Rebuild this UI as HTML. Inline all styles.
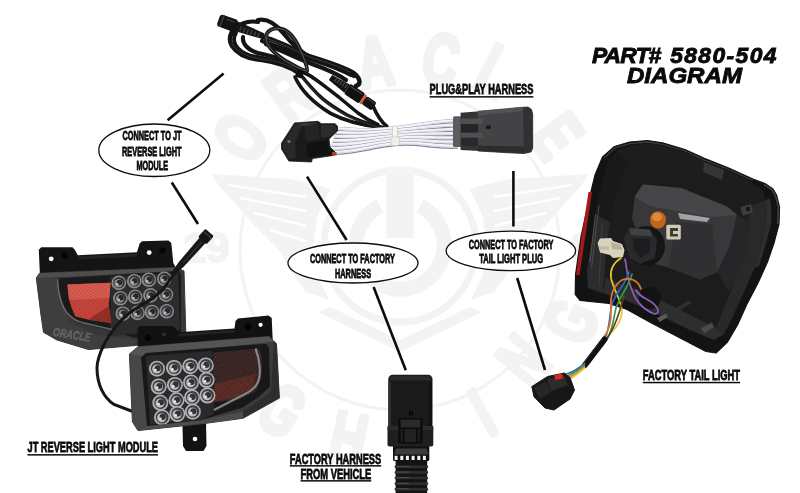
<!DOCTYPE html>
<html><head><meta charset="utf-8"><title>Part# 5880-504 Diagram</title>
<style>
html,body{margin:0;padding:0;background:#fff;}
body{width:800px;height:493px;overflow:hidden;font-family:"Liberation Sans",sans-serif;}
svg{display:block;will-change:transform;}
</style></head><body>
<svg width="800" height="493" viewBox="0 0 800 493">
<defs>
<pattern id="mesh" width="2.4" height="2.4" patternUnits="userSpaceOnUse" patternTransform="rotate(30)"><rect width="2.4" height="2.4" fill="none"/><path d="M0,0 H2.4 M0,0 V2.4" stroke="#6a1814" stroke-width="0.55" opacity="0.7"/></pattern>
<pattern id="mesh2" width="2.6" height="2.6" patternUnits="userSpaceOnUse" patternTransform="rotate(30)"><circle cx="1.3" cy="1.3" r="0.55" fill="#a8382e" opacity="0.6"/></pattern>
</defs>
<rect width="800" height="493" fill="#ffffff"/>
<g id="wm" fill="#f3f3f3" stroke="none">
<text transform="translate(239.7,136.9) rotate(-55.4) scale(0.68,1)" x="0" y="25.8" font-family="Liberation Sans, sans-serif" font-weight="bold" font-size="72" text-anchor="middle" stroke="#f3f3f3" stroke-width="5" stroke-linejoin="round">O</text>
<text transform="translate(288.0,93.0) rotate(-36.2) scale(0.68,1)" x="0" y="25.8" font-family="Liberation Sans, sans-serif" font-weight="bold" font-size="72" text-anchor="middle" stroke="#f3f3f3" stroke-width="5" stroke-linejoin="round">R</text>
<text transform="translate(375.0,61.0) rotate(-8.3) scale(0.68,1)" x="0" y="25.8" font-family="Liberation Sans, sans-serif" font-weight="bold" font-size="72" text-anchor="middle" stroke="#f3f3f3" stroke-width="5" stroke-linejoin="round">A</text>
<text transform="translate(441.0,58.6) rotate(11.4) scale(0.68,1)" x="0" y="25.8" font-family="Liberation Sans, sans-serif" font-weight="bold" font-size="72" text-anchor="middle" stroke="#f3f3f3" stroke-width="5" stroke-linejoin="round">C</text>
<text transform="translate(496.0,70.0) rotate(27.5) scale(0.68,1)" x="0" y="25.8" font-family="Liberation Sans, sans-serif" font-weight="bold" font-size="72" text-anchor="middle" stroke="#f3f3f3" stroke-width="5" stroke-linejoin="round">L</text>
<text transform="translate(557.4,135.6) rotate(53.7) scale(0.68,1)" x="0" y="25.8" font-family="Liberation Sans, sans-serif" font-weight="bold" font-size="72" text-anchor="middle" stroke="#f3f3f3" stroke-width="5" stroke-linejoin="round">E</text>
<text transform="translate(235.0,345.0) rotate(57.2) scale(0.68,1)" x="0" y="25.8" font-family="Liberation Sans, sans-serif" font-weight="bold" font-size="72" text-anchor="middle" stroke="#f3f3f3" stroke-width="5" stroke-linejoin="round">L</text>
<text transform="translate(256.0,384.0) rotate(44.0) scale(0.68,1)" x="0" y="25.8" font-family="Liberation Sans, sans-serif" font-weight="bold" font-size="72" text-anchor="middle" stroke="#f3f3f3" stroke-width="5" stroke-linejoin="round">I</text>
<text transform="translate(282.6,409.4) rotate(33.2) scale(0.68,1)" x="0" y="25.8" font-family="Liberation Sans, sans-serif" font-weight="bold" font-size="72" text-anchor="middle" stroke="#f3f3f3" stroke-width="5" stroke-linejoin="round">G</text>
<text transform="translate(348.7,437.4) rotate(12.1) scale(0.68,1)" x="0" y="25.8" font-family="Liberation Sans, sans-serif" font-weight="bold" font-size="72" text-anchor="middle" stroke="#f3f3f3" stroke-width="5" stroke-linejoin="round">H</text>
<text transform="translate(415.0,447.0) rotate(-7.1) scale(0.68,1)" x="0" y="25.8" font-family="Liberation Sans, sans-serif" font-weight="bold" font-size="72" text-anchor="middle" stroke="#f3f3f3" stroke-width="5" stroke-linejoin="round">T</text>
<text transform="translate(482.0,411.7) rotate(-28.9) scale(0.68,1)" x="0" y="25.8" font-family="Liberation Sans, sans-serif" font-weight="bold" font-size="72" text-anchor="middle" stroke="#f3f3f3" stroke-width="5" stroke-linejoin="round">I</text>
<text transform="translate(522.7,360.0) rotate(-49.1) scale(0.68,1)" x="0" y="25.8" font-family="Liberation Sans, sans-serif" font-weight="bold" font-size="72" text-anchor="middle" stroke="#f3f3f3" stroke-width="5" stroke-linejoin="round">N</text>
<text transform="translate(570.0,321.0) rotate(-67.1) scale(0.68,1)" x="0" y="25.8" font-family="Liberation Sans, sans-serif" font-weight="bold" font-size="72" text-anchor="middle" stroke="#f3f3f3" stroke-width="5" stroke-linejoin="round">G</text>
<circle cx="400" cy="250" r="160" fill="none" stroke="#f3f3f3" stroke-width="3"/>
<circle cx="400" cy="246" r="76" fill="none" stroke="#f3f3f3" stroke-width="7"/>
<path d="M 380,206 A 44 44 0 1 0 420,206" fill="none" stroke="#f3f3f3" stroke-width="15"/>
<rect x="386.5" y="174" width="27" height="64" />
<polygon points="318,312 400,352 482,312 470,307 400,340 330,307"/>
<polygon points="211,174 290,179 322,186 330,189 318,214 313,246 317,274 329,300 306,292 290,270 281,252 251,222 232,200 220,187"/>
<line x1="228" y1="185" x2="306" y2="197" stroke="#fff" stroke-width="2.4"/>
<line x1="240" y1="198" x2="306" y2="211" stroke="#fff" stroke-width="2.4"/>
<line x1="254" y1="213" x2="306" y2="226" stroke="#fff" stroke-width="2.4"/>
<line x1="270" y1="230" x2="306" y2="241" stroke="#fff" stroke-width="2.4"/>
<polygon points="589,174 510,179 478,186 470,189 482,214 487,246 483,274 471,300 494,292 510,270 519,252 549,222 568,200 580,187"/>
<line x1="572" y1="185" x2="494" y2="197" stroke="#fff" stroke-width="2.4"/>
<line x1="560" y1="198" x2="494" y2="211" stroke="#fff" stroke-width="2.4"/>
<line x1="546" y1="213" x2="494" y2="226" stroke="#fff" stroke-width="2.4"/>
<line x1="530" y1="230" x2="494" y2="241" stroke="#fff" stroke-width="2.4"/>
<text x="206" y="262" font-family="Liberation Sans, sans-serif" font-weight="bold" font-size="42" text-anchor="middle" stroke="#f3f3f3" stroke-width="2">19</text>
<text x="594" y="262" font-family="Liberation Sans, sans-serif" font-weight="bold" font-size="42" text-anchor="middle" stroke="#f3f3f3" stroke-width="2">99</text>
</g>
<g stroke="#0c0c0c" stroke-width="2.6" stroke-linecap="butt">
<line x1="223.6" y1="73.5" x2="167.6" y2="120.3"/>
<line x1="171.8" y1="182.5" x2="198" y2="224"/>
<line x1="307" y1="176.6" x2="346.6" y2="240"/>
<line x1="373.6" y1="287" x2="405.8" y2="370.3"/>
<line x1="513.4" y1="171" x2="513.4" y2="226.5"/>
<line x1="517.2" y1="278" x2="545" y2="370"/>
</g>
<g id="cable" fill="none" stroke="#141414" stroke-linecap="round" stroke-linejoin="round">
<path d="M263,37 C275,40 290,47 305,55 C322,60 340,66 352,72 C360,77 362,84 356,86" stroke-width="4.5"/>
<path d="M258,20 C268,18 276,24 284,34 C292,44 300,52 312,58 C328,64 344,70 354,76" stroke-width="4.3"/>
<path d="M266,44 C280,50 296,58 312,64 C326,69 338,74 346,80" stroke-width="4.3"/>
<path d="M262,41 C280,47 298,55 316,61 C330,65.5 342,70 351,75" stroke-width="4.2"/>
<path d="M236,33 C231,41 236,51 250,55.5 C266,58.5 284,62 298,71" stroke-width="3.8"/>
<path d="M238,26 C230,30 228,40 232,46 C238,55 250,59 262,60 C276,62 290,66 300,74" stroke-width="4.5"/>
<path d="M243,37 C242,44 248,50 258,53 C272,56 288,60 300,70" stroke-width="4.1"/>
<path d="M233,34 C236,24 248,20 258,22" stroke-width="4.1"/>
<path d="M295,77 C300,88 312,102 330.6,113.4 C342,119.5 358,124.5 378,127" stroke-width="3.6"/>
<path d="M300,74 C308,84 315,92 322.5,98.7 C330,105 338,110 347,115 C356,119.5 366,123.5 383,127.5" stroke-width="3.6"/>
<path d="M302,72 C310,74 322,84 338.7,97 C346,103 352,108 358,113 C364,117.5 370,121 378,124.5" stroke-width="3.5"/>
<path d="M373,106 C376,113 380,121 387,126.5" stroke-width="3.6"/>
<path d="M266,38 C266,30 274,27 282,29 C292,32 298,44 303,56 C306,64 308,70 307,71 C304,71 294,66 284,60 C274,53 266,46 266,38Z" stroke-width="4" stroke="#1a1a1a"/>
<path d="M266,38 C266,30 274,27 282,29 C292,32 298,44 303,56 C306,64 308,70 307,71 C304,71 294,66 284,60 C274,53 266,46 266,38Z" stroke-width="0.8" stroke="#6a6a6a"/>
<path d="M266,38 C280,43 296,51 310,57 C326,62 340,67 350,72" stroke="#4a4a4a" stroke-width="0.7"/>
<path d="M232,44 C238,54 252,58 264,59.5 C278,61 290,65 299,72" stroke="#444" stroke-width="0.7"/>
<path d="M301,76 C309,86 316,93 323,99.5 C331,106 339,111 347.5,115.8 C356,120 366,124 382,128" stroke="#444" stroke-width="0.7"/>
</g>
<rect x="296" y="70" width="7" height="8" rx="2" fill="#0c0c0c" transform="rotate(20 300 74)"/>
<g transform="translate(218.5,19.8) rotate(20)">
<rect x="0" y="-6.3" width="19" height="12.6" rx="3" fill="#131313"/>
<rect x="2.5" y="-6.3" width="2.2" height="12.6" fill="#333"/>
<rect x="7" y="-4" width="9" height="1.4" fill="#3c3c3c"/>
<polygon points="18,-5 48,-3 48,3 18,5" fill="#151515"/>
<rect x="23.0" y="-1.6" width="1.6" height="5" fill="#3e3e3e"/>
<rect x="26.8" y="-1.6" width="1.6" height="5" fill="#3e3e3e"/>
<rect x="30.6" y="-1.6" width="1.6" height="5" fill="#3e3e3e"/>
<rect x="34.4" y="-1.6" width="1.6" height="5" fill="#3e3e3e"/>
<rect x="38.2" y="-1.6" width="1.6" height="5" fill="#3e3e3e"/>
<rect x="42.0" y="-1.6" width="1.6" height="5" fill="#3e3e3e"/>
</g>
<g transform="translate(330.5,77.5) rotate(33.8)">
<polygon points="0,-3 20,-5 20,5 0,3" fill="#141414"/>
<rect x="5.0" y="-4" width="1.3" height="5" fill="#484848"/>
<rect x="8.0" y="-4" width="1.3" height="5" fill="#484848"/>
<rect x="11.0" y="-4" width="1.3" height="5" fill="#484848"/>
<rect x="14.0" y="-4" width="1.3" height="5" fill="#484848"/>
<rect x="17.0" y="-4" width="1.3" height="5" fill="#484848"/>
<rect x="20" y="-6" width="18" height="12" rx="2" fill="#111"/>
<rect x="22" y="-4.5" width="14" height="1.4" fill="#3a3a3a"/>
<rect x="38" y="-5.2" width="2.6" height="10.4" fill="#d8582a"/>
<rect x="40.4" y="-4.8" width="12" height="9.6" rx="2" fill="#131313"/>
<rect x="42" y="-3.6" width="9" height="1.3" fill="#3a3a3a"/>
</g>
<g id="harness">
<path d="M337.0,128.5 C359.0,130.0 370,130.5 395,128.0 S430,121.5 458,120.5" fill="none" stroke="#85859a" stroke-width="4.6" transform="translate(0,0.5)"/>
<path d="M337.0,128.5 C359.0,130.0 370,130.5 395,128.0 S430,121.5 458,120.5" fill="none" stroke="#f3f3f8" stroke-width="3.1"/>
<path d="M337.0,128.5 C359.0,130.0 370,130.5 395,128.0 S430,121.5 458,120.5" fill="none" stroke="#d3d3de" stroke-width="0.9" transform="translate(0,1)"/>
<path d="M335.7,132.4 C357.7,133.9 370,133.1 395,130.6 S430,125.8 458,124.8" fill="none" stroke="#85859a" stroke-width="4.6" transform="translate(0,0.5)"/>
<path d="M335.7,132.4 C357.7,133.9 370,133.1 395,130.6 S430,125.8 458,124.8" fill="none" stroke="#f3f3f8" stroke-width="3.1"/>
<path d="M335.7,132.4 C357.7,133.9 370,133.1 395,130.6 S430,125.8 458,124.8" fill="none" stroke="#d3d3de" stroke-width="0.9" transform="translate(0,1)"/>
<path d="M334.3,136.3 C356.3,137.8 370,135.7 395,133.2 S430,130.0 458,129.0" fill="none" stroke="#85859a" stroke-width="4.6" transform="translate(0,0.5)"/>
<path d="M334.3,136.3 C356.3,137.8 370,135.7 395,133.2 S430,130.0 458,129.0" fill="none" stroke="#f3f3f8" stroke-width="3.1"/>
<path d="M334.3,136.3 C356.3,137.8 370,135.7 395,133.2 S430,130.0 458,129.0" fill="none" stroke="#d3d3de" stroke-width="0.9" transform="translate(0,1)"/>
<path d="M333.0,140.2 C355.0,141.8 370,138.2 395,135.8 S430,134.2 458,133.2" fill="none" stroke="#85859a" stroke-width="4.6" transform="translate(0,0.5)"/>
<path d="M333.0,140.2 C355.0,141.8 370,138.2 395,135.8 S430,134.2 458,133.2" fill="none" stroke="#f3f3f8" stroke-width="3.1"/>
<path d="M333.0,140.2 C355.0,141.8 370,138.2 395,135.8 S430,134.2 458,133.2" fill="none" stroke="#d3d3de" stroke-width="0.9" transform="translate(0,1)"/>
<path d="M331.7,144.2 C353.7,145.7 370,140.8 395,138.3 S430,138.5 458,137.5" fill="none" stroke="#85859a" stroke-width="4.6" transform="translate(0,0.5)"/>
<path d="M331.7,144.2 C353.7,145.7 370,140.8 395,138.3 S430,138.5 458,137.5" fill="none" stroke="#f3f3f8" stroke-width="3.1"/>
<path d="M331.7,144.2 C353.7,145.7 370,140.8 395,138.3 S430,138.5 458,137.5" fill="none" stroke="#d3d3de" stroke-width="0.9" transform="translate(0,1)"/>
<path d="M330.3,148.1 C352.3,149.6 370,143.4 395,140.9 S430,142.8 458,141.8" fill="none" stroke="#85859a" stroke-width="4.6" transform="translate(0,0.5)"/>
<path d="M330.3,148.1 C352.3,149.6 370,143.4 395,140.9 S430,142.8 458,141.8" fill="none" stroke="#f3f3f8" stroke-width="3.1"/>
<path d="M330.3,148.1 C352.3,149.6 370,143.4 395,140.9 S430,142.8 458,141.8" fill="none" stroke="#d3d3de" stroke-width="0.9" transform="translate(0,1)"/>
<path d="M329.0,152.0 C351.0,153.5 370,146.0 395,143.5 S430,147.0 458,146.0" fill="none" stroke="#85859a" stroke-width="4.6" transform="translate(0,0.5)"/>
<path d="M329.0,152.0 C351.0,153.5 370,146.0 395,143.5 S430,147.0 458,146.0" fill="none" stroke="#f3f3f8" stroke-width="3.1"/>
<path d="M329.0,152.0 C351.0,153.5 370,146.0 395,143.5 S430,147.0 458,146.0" fill="none" stroke="#d3d3de" stroke-width="0.9" transform="translate(0,1)"/>
<rect x="392.5" y="126" width="5" height="19" rx="2" fill="#f6f4ec" stroke="#c4c2b8" stroke-width="0.6"/>
<rect x="391" y="137" width="8.5" height="8.5" rx="1.5" fill="#f1efe5" stroke="#c4c2b8" stroke-width="0.6"/>
<polygon points="281.5,143.2 294.5,122.9 318.0,121.3 321.3,123.7 335.0,123.7 337.5,126.0 337.5,131.0 329.0,139.0 330.0,147.0 335.0,152.0 333.5,155.4 312.4,158.6 311.5,162.0 288.8,161.0 281.5,149.0" fill="#1b1b1b" stroke="#1b1b1b" stroke-width="0.8" stroke-linejoin="round"/>
<polygon points="283.0,143.5 295.0,124.5 303.0,124.0 295.5,141.0 295.5,158.0 289.5,159.0 283.0,149.0" fill="#292929" />
<polygon points="296.0,123.5 317.5,122.3 309.0,127.0 303.0,126.0" fill="#353535" />
<polygon points="304.0,127.0 318.0,123.0 320.0,139.0 306.0,142.0" fill="#242424" />
<polygon points="306.0,144.0 328.0,140.0 329.0,147.0 333.0,152.0 332.0,154.5 308.0,157.5" fill="#111" />
<polygon points="321.0,125.0 334.5,125.0 336.0,127.0 336.0,131.0 329.0,137.0 321.0,138.0" fill="#2b2b2b" />
<rect x="332" y="152" width="4.5" height="3.6" fill="#a8432a"/>
<ellipse cx="289" cy="141.5" rx="1.6" ry="1.2" fill="#8a7a50"/>
<rect x="453" y="116.3" width="9" height="30.6" rx="1.5" fill="#5c5c5e"/>
<polygon points="460.6,112.8 480.0,111.3 480.0,151.0 460.6,150.0" fill="#333335" />
<polygon points="478.0,111.3 522.0,107.3 528.0,107.0 531.5,109.5 532.7,114.0 532.7,148.0 531.0,152.0 524.0,153.5 508.0,152.8 478.0,151.0" fill="#434345" stroke="#434345" stroke-width="0.8" stroke-linejoin="round"/>
<polygon points="478.0,111.3 522.0,107.3 528.0,107.0 530.0,109.0 524.0,111.0 478.0,115.5" fill="#525254" />
<polygon points="523.0,107.5 528.0,107.0 531.5,109.5 532.7,114.0 532.7,148.0 531.0,152.0 524.0,153.5" fill="#313133" />
<polygon points="478.0,145.5 524.0,146.5 524.0,153.5 508.0,152.8 478.0,151.0" fill="#2c2c2e" />
<rect x="461" y="118.6" width="21.5" height="5.4" rx="1" fill="#505052"/>
<rect x="461" y="132.4" width="21.5" height="5.4" rx="1" fill="#505052"/>
<rect x="461" y="124" width="17" height="8.4" fill="#252527"/>
<rect x="461" y="137.8" width="17" height="8" fill="#29292b"/>
<rect x="486" y="125.6" width="5" height="3.2" fill="#18181a"/>
</g>
<g id="mod1">
<polygon points="38.8,249.8 41.3,247.2 72.4,247.2 74.8,249.8 77.8,255.3 137.0,252.3 139.6,243.5 142.0,241.3 168.5,240.6 171.3,243.0 173.3,263.0 177.0,270.0 40.0,277.0" fill="#141414" />
<polygon points="78.0,256.5 137.0,253.5 137.0,256.5 78.0,259.5" fill="#232323" />
<circle cx="51.2" cy="258.8" r="2.4" fill="#fff"/>
<circle cx="149.2" cy="252.6" r="2.4" fill="#fff"/>
<circle cx="64.5" cy="255.5" r="3.2" fill="#050505"/>
<circle cx="162.5" cy="250.6" r="3.2" fill="#050505"/>
<polygon points="36.3,278.0 39.5,273.2 176.0,267.5 184.0,271.0 186.0,340.0 135.0,345.5 88.5,349.5 57.0,340.0 43.5,332.3 41.0,315.0" fill="#373737" stroke="#373737" stroke-width="1" stroke-linejoin="round"/>
<polygon points="36.3,278.0 39.5,273.2 176.0,267.5 181.0,270.8 58.0,277.2" fill="#4e4e4e" />
<polygon points="36.3,278.0 58.0,277.2 60.0,300.0 70.0,322.0 95.0,334.0 134.7,340.0 135.0,345.5 88.5,349.5 57.0,340.0 43.5,332.3 41.0,315.0" fill="#3e3e3e" />
<polygon points="56.8,278.4 178.6,271.0 181.0,275.0 181.0,336.0 134.7,338.0 111.0,330.5 79.5,323.0 67.0,312.0 60.5,298.0" fill="#1a1a1a" />
<polygon points="110.4,276.5 178.0,272.5 180.0,330.0 110.4,336.0" fill="#2c2c2e" />
<path d="M67.5,284.5 L110.5,282.8 L108.8,305 L111.2,323 L90,320 L75.6,316.6 C70,306 68,296 67.5,284.5Z" fill="#cf4a41"/>
<path d="M67.5,284.5 L110.5,282.8 L109.5,298 L69,300Z" fill="#ea6e63" opacity="0.7"/>
<path d="M88,319.6 L111.2,323 L109,306 Z" fill="#8e2a24" opacity="0.8"/>
<path d="M67.5,284.5 L110.5,282.8 L108.8,305 L111.2,323 L90,320 L75.6,316.6 C70,306 68,296 67.5,284.5Z" fill="url(#mesh)"/>
<path d="M57.6,279 C58,294 62,309 69.5,315.5 C74,319.5 78,321.5 82,322.5 L112,329.5" fill="none" stroke="#7a7a7c" stroke-width="1.3" opacity="0.8"/>
<circle cx="118.8" cy="282.9" r="7.3" fill="#8e8e91"/>
<circle cx="119.0" cy="282.7" r="5.77" fill="#343436"/>
<circle cx="118.5" cy="283.2" r="4.16" fill="#8c8c8f"/>
<circle cx="119.5" cy="282.4" r="2.77" fill="#29292b"/>
<circle cx="117.2" cy="284.2" r="1.17" fill="#c8c8cb"/>
<circle cx="134.2" cy="281.2" r="7.3" fill="#8e8e91"/>
<circle cx="134.4" cy="281.0" r="5.77" fill="#343436"/>
<circle cx="133.9" cy="281.5" r="4.16" fill="#8c8c8f"/>
<circle cx="134.9" cy="280.7" r="2.77" fill="#29292b"/>
<circle cx="132.6" cy="282.5" r="1.17" fill="#c8c8cb"/>
<circle cx="148.8" cy="279.8" r="7.3" fill="#8e8e91"/>
<circle cx="149.0" cy="279.6" r="5.77" fill="#343436"/>
<circle cx="148.5" cy="280.1" r="4.16" fill="#8c8c8f"/>
<circle cx="149.5" cy="279.3" r="2.77" fill="#29292b"/>
<circle cx="147.2" cy="281.1" r="1.17" fill="#c8c8cb"/>
<circle cx="164.3" cy="278.8" r="7.3" fill="#8e8e91"/>
<circle cx="164.5" cy="278.6" r="5.77" fill="#343436"/>
<circle cx="164.0" cy="279.1" r="4.16" fill="#8c8c8f"/>
<circle cx="165.0" cy="278.3" r="2.77" fill="#29292b"/>
<circle cx="162.7" cy="280.1" r="1.17" fill="#c8c8cb"/>
<circle cx="120.4" cy="298.3" r="7.3" fill="#8e8e91"/>
<circle cx="120.6" cy="298.1" r="5.77" fill="#343436"/>
<circle cx="120.1" cy="298.6" r="4.16" fill="#8c8c8f"/>
<circle cx="121.1" cy="297.8" r="2.77" fill="#29292b"/>
<circle cx="118.8" cy="299.6" r="1.17" fill="#c8c8cb"/>
<circle cx="135.2" cy="296.8" r="7.3" fill="#8e8e91"/>
<circle cx="135.4" cy="296.6" r="5.77" fill="#343436"/>
<circle cx="134.9" cy="297.1" r="4.16" fill="#8c8c8f"/>
<circle cx="135.9" cy="296.3" r="2.77" fill="#29292b"/>
<circle cx="133.6" cy="298.1" r="1.17" fill="#c8c8cb"/>
<circle cx="150.5" cy="295.4" r="7.3" fill="#8e8e91"/>
<circle cx="150.7" cy="295.2" r="5.77" fill="#343436"/>
<circle cx="150.2" cy="295.7" r="4.16" fill="#8c8c8f"/>
<circle cx="151.2" cy="294.9" r="2.77" fill="#29292b"/>
<circle cx="148.9" cy="296.7" r="1.17" fill="#c8c8cb"/>
<circle cx="165.9" cy="294.6" r="7.3" fill="#8e8e91"/>
<circle cx="166.1" cy="294.4" r="5.77" fill="#343436"/>
<circle cx="165.6" cy="294.9" r="4.16" fill="#8c8c8f"/>
<circle cx="166.6" cy="294.1" r="2.77" fill="#29292b"/>
<circle cx="164.3" cy="295.9" r="1.17" fill="#c8c8cb"/>
<circle cx="122.9" cy="313.7" r="7.3" fill="#8e8e91"/>
<circle cx="123.1" cy="313.5" r="5.77" fill="#343436"/>
<circle cx="122.6" cy="314.0" r="4.16" fill="#8c8c8f"/>
<circle cx="123.6" cy="313.2" r="2.77" fill="#29292b"/>
<circle cx="121.3" cy="315.0" r="1.17" fill="#c8c8cb"/>
<circle cx="137.5" cy="312.9" r="7.3" fill="#8e8e91"/>
<circle cx="137.7" cy="312.7" r="5.77" fill="#343436"/>
<circle cx="137.2" cy="313.2" r="4.16" fill="#8c8c8f"/>
<circle cx="138.2" cy="312.4" r="2.77" fill="#29292b"/>
<circle cx="135.9" cy="314.2" r="1.17" fill="#c8c8cb"/>
<circle cx="152.0" cy="312.0" r="7.3" fill="#8e8e91"/>
<circle cx="152.2" cy="311.8" r="5.77" fill="#343436"/>
<circle cx="151.7" cy="312.3" r="4.16" fill="#8c8c8f"/>
<circle cx="152.7" cy="311.5" r="2.77" fill="#29292b"/>
<circle cx="150.4" cy="313.3" r="1.17" fill="#c8c8cb"/>
<circle cx="166.7" cy="311.3" r="7.3" fill="#8e8e91"/>
<circle cx="166.9" cy="311.1" r="5.77" fill="#343436"/>
<circle cx="166.4" cy="311.6" r="4.16" fill="#8c8c8f"/>
<circle cx="167.4" cy="310.8" r="2.77" fill="#29292b"/>
<circle cx="165.1" cy="312.6" r="1.17" fill="#c8c8cb"/>
<text x="52.5" y="335.5" font-family="Liberation Sans, sans-serif" font-weight="bold" font-style="italic" font-size="12" textLength="38" lengthAdjust="spacingAndGlyphs" fill="#5c5c5c" stroke="#757575" stroke-width="0.35" transform="rotate(9.5 52.5 335.5)">ORACLE</text>
</g>
<g id="modcable">
<path d="M181,264 C176,271 170,280 164,288 C154,300 142,304 132.7,310.5 C122,318 110,332 103.7,345 C99,355 97,362 97,368 C97,385 104,398 114,404.5 L134,412" fill="none" stroke="#161616" stroke-width="3" stroke-linecap="round"/>
<g transform="translate(209.3,232.8) rotate(131.7)"><rect x="-0.5" y="-5.6" width="11" height="11.2" rx="1.4" fill="#141414"/><polygon points="10,-4 42,-3.4 56,-1.8 56,1.8 42,3.4 10,4" fill="#171717"/><rect x="2" y="-5.6" width="1.6" height="11.2" fill="#363636"/><rect x="12" y="-1" width="28" height="1" fill="#3a3a3a"/></g>
</g>
<g id="mod2">
<polygon points="137.5,328.6 140.0,326.0 173.0,326.0 175.5,328.4 178.0,332.2 234.5,328.4 235.5,321.0 238.0,318.4 268.5,315.6 271.7,318.0 272.8,342.0 138.0,350.0" fill="#121212" />
<polygon points="178.5,333.6 234.5,329.8 234.5,332.5 178.5,336.4" fill="#222" />
<circle cx="148" cy="337.8" r="3.4" fill="#040404"/>
<circle cx="164" cy="334.6" r="2" fill="#2e2e2e"/>
<circle cx="260.6" cy="324.8" r="2.1" fill="#fff"/>
<circle cx="248" cy="326.5" r="3.4" fill="#040404"/>
<polygon points="182.4,423.0 206.0,422.0 206.5,446.0 203.5,451.0 186.0,451.0 183.0,446.0" fill="#121212" />
<circle cx="195" cy="439" r="2.3" fill="#fff"/>
<polygon points="129.4,354.0 138.0,346.8 269.0,336.5 276.5,343.8 279.4,398.0 243.0,418.3 204.4,423.5 138.0,430.6 132.4,421.8" fill="#3b3b3b" stroke="#3b3b3b" stroke-width="1" stroke-linejoin="round"/>
<polygon points="129.4,354.0 138.0,346.8 269.0,336.5 274.0,341.5 142.0,356.5" fill="#545454" />
<polygon points="129.4,354.0 142.0,356.5 147.0,426.0 138.0,430.6 132.4,421.8" fill="#474747" />
<polygon points="274.0,341.5 276.5,343.8 279.4,398.0 243.0,418.3 243.0,411.5 271.0,392.0" fill="#2d2d2d" />
<polygon points="147.0,426.0 201.5,420.0 243.0,411.5 243.0,418.3 204.4,423.5 138.0,430.6" fill="#4c4c4c" />
<polygon points="141.0,357.5 146.0,353.0 266.0,343.8 269.0,348.0 270.0,386.5 260.0,396.0 242.6,407.5 201.5,420.0 147.0,426.0" fill="#181818" />
<polygon points="146.0,356.0 212.0,351.0 214.0,414.0 201.5,420.0 150.0,424.5" fill="#2a2a2c" />
<path d="M213,352.5 L259,348.5 C264,360 263,380 255,392 L238,400 L214,402Z" fill="#2e2523"/>
<path d="M214,384 L256,374 L252,388 L236,397 L214,402Z" fill="#5a2a24" opacity="0.8"/>
<path d="M213,352.5 L259,348.5 C264,360 263,380 255,392 L238,400 L214,402Z" fill="url(#mesh2)"/>
<path d="M255.5,348.5 C260,360 261.5,375 257.5,383 C254.5,389 250,391.5 246,393.5 L214,410" fill="none" stroke="#97979a" stroke-width="2.2" opacity="0.85"/>
<clipPath id="lens2"><polygon points="141,357.5 146,353 266,343.8 269,348 270,386.5 260,396 242.6,407.5 201.5,420 147,426"/></clipPath>
<g clip-path="url(#lens2)">
<circle cx="157.0" cy="368.7" r="8.0" fill="#b2b2b5"/>
<circle cx="157.2" cy="368.5" r="6.32" fill="#3e3e40"/>
<circle cx="156.7" cy="369.0" r="4.56" fill="#bebec1"/>
<circle cx="157.7" cy="368.2" r="3.04" fill="#333335"/>
<circle cx="155.4" cy="370.0" r="1.28" fill="#ececee"/>
<circle cx="174.0" cy="367.9" r="8.0" fill="#b2b2b5"/>
<circle cx="174.2" cy="367.7" r="6.32" fill="#3e3e40"/>
<circle cx="173.7" cy="368.2" r="4.56" fill="#bebec1"/>
<circle cx="174.7" cy="367.4" r="3.04" fill="#333335"/>
<circle cx="172.4" cy="369.2" r="1.28" fill="#ececee"/>
<circle cx="190.3" cy="366.2" r="8.0" fill="#b2b2b5"/>
<circle cx="190.5" cy="366.0" r="6.32" fill="#3e3e40"/>
<circle cx="190.0" cy="366.5" r="4.56" fill="#bebec1"/>
<circle cx="191.0" cy="365.7" r="3.04" fill="#333335"/>
<circle cx="188.7" cy="367.5" r="1.28" fill="#ececee"/>
<circle cx="205.7" cy="365.4" r="8.0" fill="#b2b2b5"/>
<circle cx="205.9" cy="365.2" r="6.32" fill="#3e3e40"/>
<circle cx="205.4" cy="365.7" r="4.56" fill="#bebec1"/>
<circle cx="206.4" cy="364.9" r="3.04" fill="#333335"/>
<circle cx="204.1" cy="366.7" r="1.28" fill="#ececee"/>
<circle cx="158.7" cy="386.5" r="8.0" fill="#b2b2b5"/>
<circle cx="158.9" cy="386.3" r="6.32" fill="#3e3e40"/>
<circle cx="158.4" cy="386.8" r="4.56" fill="#bebec1"/>
<circle cx="159.4" cy="386.0" r="3.04" fill="#333335"/>
<circle cx="157.1" cy="387.8" r="1.28" fill="#ececee"/>
<circle cx="174.9" cy="384.9" r="8.0" fill="#b2b2b5"/>
<circle cx="175.1" cy="384.7" r="6.32" fill="#3e3e40"/>
<circle cx="174.6" cy="385.2" r="4.56" fill="#bebec1"/>
<circle cx="175.6" cy="384.4" r="3.04" fill="#333335"/>
<circle cx="173.3" cy="386.2" r="1.28" fill="#ececee"/>
<circle cx="191.0" cy="382.5" r="8.0" fill="#b2b2b5"/>
<circle cx="191.2" cy="382.3" r="6.32" fill="#3e3e40"/>
<circle cx="190.7" cy="382.8" r="4.56" fill="#bebec1"/>
<circle cx="191.7" cy="382.0" r="3.04" fill="#333335"/>
<circle cx="189.4" cy="383.8" r="1.28" fill="#ececee"/>
<circle cx="206.6" cy="380.0" r="8.0" fill="#b2b2b5"/>
<circle cx="206.8" cy="379.8" r="6.32" fill="#3e3e40"/>
<circle cx="206.3" cy="380.3" r="4.56" fill="#bebec1"/>
<circle cx="207.3" cy="379.5" r="3.04" fill="#333335"/>
<circle cx="205.0" cy="381.3" r="1.28" fill="#ececee"/>
<circle cx="160.3" cy="402.8" r="8.0" fill="#b2b2b5"/>
<circle cx="160.5" cy="402.6" r="6.32" fill="#3e3e40"/>
<circle cx="160.0" cy="403.1" r="4.56" fill="#bebec1"/>
<circle cx="161.0" cy="402.3" r="3.04" fill="#333335"/>
<circle cx="158.7" cy="404.1" r="1.28" fill="#ececee"/>
<circle cx="176.5" cy="400.3" r="8.0" fill="#b2b2b5"/>
<circle cx="176.7" cy="400.1" r="6.32" fill="#3e3e40"/>
<circle cx="176.2" cy="400.6" r="4.56" fill="#bebec1"/>
<circle cx="177.2" cy="399.8" r="3.04" fill="#333335"/>
<circle cx="174.9" cy="401.6" r="1.28" fill="#ececee"/>
<circle cx="192.0" cy="397.4" r="8.0" fill="#b2b2b5"/>
<circle cx="192.2" cy="397.2" r="6.32" fill="#3e3e40"/>
<circle cx="191.7" cy="397.7" r="4.56" fill="#bebec1"/>
<circle cx="192.7" cy="396.9" r="3.04" fill="#333335"/>
<circle cx="190.4" cy="398.7" r="1.28" fill="#ececee"/>
<circle cx="207.4" cy="395.5" r="8.0" fill="#b2b2b5"/>
<circle cx="207.6" cy="395.3" r="6.32" fill="#3e3e40"/>
<circle cx="207.1" cy="395.8" r="4.56" fill="#bebec1"/>
<circle cx="208.1" cy="395.0" r="3.04" fill="#333335"/>
<circle cx="205.8" cy="396.8" r="1.28" fill="#ececee"/>
<circle cx="162.0" cy="417.4" r="8.0" fill="#b2b2b5"/>
<circle cx="162.2" cy="417.2" r="6.32" fill="#3e3e40"/>
<circle cx="161.7" cy="417.7" r="4.56" fill="#bebec1"/>
<circle cx="162.7" cy="416.9" r="3.04" fill="#333335"/>
<circle cx="160.4" cy="418.7" r="1.28" fill="#ececee"/>
<circle cx="177.3" cy="414.0" r="8.0" fill="#b2b2b5"/>
<circle cx="177.5" cy="413.8" r="6.32" fill="#3e3e40"/>
<circle cx="177.0" cy="414.3" r="4.56" fill="#bebec1"/>
<circle cx="178.0" cy="413.5" r="3.04" fill="#333335"/>
<circle cx="175.7" cy="415.3" r="1.28" fill="#ececee"/>
<circle cx="192.8" cy="411.7" r="8.0" fill="#b2b2b5"/>
<circle cx="193.0" cy="411.5" r="6.32" fill="#3e3e40"/>
<circle cx="192.5" cy="412.0" r="4.56" fill="#bebec1"/>
<circle cx="193.5" cy="411.2" r="3.04" fill="#333335"/>
<circle cx="191.2" cy="413.0" r="1.28" fill="#ececee"/>
</g>
</g>
<g id="factory">
<rect x="395.6" y="459" width="31.6" height="35" fill="#141414"/>
<rect x="394.6" y="465.5" width="33.6" height="2.6" rx="1.2" fill="#2e2e2e"/>
<rect x="397" y="466.0" width="12" height="0.9" fill="#505050"/>
<rect x="394.6" y="471.1" width="33.6" height="2.6" rx="1.2" fill="#2e2e2e"/>
<rect x="397" y="471.6" width="12" height="0.9" fill="#505050"/>
<rect x="394.6" y="476.7" width="33.6" height="2.6" rx="1.2" fill="#2e2e2e"/>
<rect x="397" y="477.2" width="12" height="0.9" fill="#505050"/>
<rect x="394.6" y="482.3" width="33.6" height="2.6" rx="1.2" fill="#2e2e2e"/>
<rect x="397" y="482.8" width="12" height="0.9" fill="#505050"/>
<rect x="394.6" y="487.9" width="33.6" height="2.6" rx="1.2" fill="#2e2e2e"/>
<rect x="397" y="488.4" width="12" height="0.9" fill="#505050"/>
<rect x="394.6" y="493.5" width="33.6" height="2.6" rx="1.2" fill="#2e2e2e"/>
<rect x="397" y="494.0" width="12" height="0.9" fill="#505050"/>
<rect x="393" y="444" width="36.3" height="17" rx="1.5" fill="#101010"/>
<polygon points="396,448.5 426.5,448.5 428.5,454.5 394,454.5" fill="#3d3d3d"/>
<rect x="394.6" y="455.8" width="3" height="4.2" fill="#f4f4f4"/>
<rect x="400.3" y="455.8" width="3" height="4.2" fill="#f4f4f4"/>
<rect x="405.9" y="455.8" width="3" height="4.2" fill="#f4f4f4"/>
<rect x="411.6" y="455.8" width="3" height="4.2" fill="#f4f4f4"/>
<rect x="417.3" y="455.8" width="3" height="4.2" fill="#f4f4f4"/>
<rect x="422.9" y="455.8" width="3" height="4.2" fill="#f4f4f4"/>
<rect x="388.3" y="374.8" width="44.2" height="60" rx="4.5" fill="#1a1a1a"/>
<rect x="387.5" y="426" width="45.8" height="20.5" rx="2" fill="#1f1f1f"/>
<rect x="387.5" y="426" width="45.8" height="4" fill="#2b2b2b"/>
<rect x="389.5" y="376" width="41.8" height="4.5" rx="3" fill="#2a2a2a"/>
<rect x="388.3" y="382" width="2.6" height="44" fill="#303030"/>
<rect x="429" y="382" width="3" height="44" fill="#111"/>
<rect x="398.3" y="418" width="24.2" height="25.5" rx="1.5" fill="#0a0a0a"/>
<rect x="400.5" y="419.5" width="19.8" height="8" fill="#2a2a2a"/>
<rect x="404.5" y="429" width="11.5" height="13" fill="#222"/>
<rect x="400.5" y="429" width="2.6" height="13" fill="#1c1c1c"/><rect x="417.6" y="429" width="2.6" height="13" fill="#1c1c1c"/>
<rect x="409" y="411" width="1.3" height="4.5" fill="#000"/><rect x="411.4" y="411" width="1.3" height="4.5" fill="#000"/>
</g>
<g id="tail">
<polygon points="602.5,157.0 614.5,146.5 629.5,142.0 647.5,140.5 662.5,142.8 685.0,149.5 704.3,158.3 728.7,168.0 753.0,179.0 765.0,183.5 773.0,189.0 776.5,195.0 779.5,207.0 779.0,224.0 774.0,243.0 767.5,262.0 758.0,283.0 747.0,304.0 737.5,325.0 727.5,342.0 716.0,353.0 706.0,351.5 682.0,339.0 651.0,322.7 627.0,309.5 609.0,303.5 580.0,300.4 575.2,294.3 575.6,274.0 581.0,237.0 589.0,200.0 595.0,175.0" fill="#131314" stroke="#131314" stroke-width="1.2" stroke-linejoin="round"/>
<polygon points="588.5,192.0 592.0,192.0 579.5,275.0 576.0,275.0 581.5,237.0" fill="#a6181b" />
<polygon points="603.0,178.0 609.0,162.0 617.0,151.0 630.0,146.0 647.5,143.5 662.0,146.0 685.0,152.5 704.0,161.0 728.0,171.0 752.0,182.5 762.0,190.0 766.0,200.0 767.0,219.0 762.0,243.0 754.6,267.5 745.0,290.0 733.0,316.0 724.0,334.0 714.0,340.0 690.0,330.0 655.0,313.0 625.0,300.0 600.0,293.0 588.0,288.0 587.0,270.0 592.0,240.0 597.0,205.0" fill="#1c1c1d" />
<polygon points="603.0,178.0 609.0,162.0 617.0,151.0 628.0,158.0 614.0,200.0 610.0,222.0 596.0,215.0 597.0,205.0" fill="#19191a" />
<polygon points="596.0,215.0 610.0,222.0 606.0,250.0 603.0,293.0 588.0,288.0 587.0,270.0 592.0,240.0" fill="#2c2c2d" />
<path d="M599,205 L591.5,268" stroke="#505052" stroke-width="0.9" fill="none"/>
<polygon points="617.0,151.0 630.0,146.0 647.5,143.5 662.0,146.0 685.0,152.5 704.0,161.0 728.0,171.0 752.0,182.5 762.0,190.0 766.0,200.0 750.0,206.0 700.0,184.0 655.0,168.0 628.0,160.0" fill="#1d1d1e" />
<polygon points="704.0,162.0 724.0,170.0 722.0,180.0 703.0,172.0" fill="#353537" />
<polygon points="766.0,200.0 767.0,219.0 762.0,243.0 754.6,267.5 745.0,290.0 733.0,316.0 724.0,334.0 716.0,328.0 730.0,294.0 744.0,250.0 750.0,206.0" fill="#29292a" />
<polygon points="603.0,293.0 625.0,300.0 655.0,313.0 690.0,330.0 714.0,340.0 724.0,334.0 716.0,328.0 700.0,320.0 660.0,300.0 628.0,286.0 606.0,278.0" fill="#2e2e30" />
<polygon points="766.0,200.0 770.0,198.0 771.5,212.0 771.0,224.0 766.0,243.0 759.0,266.0 754.6,267.5 762.0,243.0 767.0,219.0" fill="#2f2f31" />
<polygon points="737.0,215.0 751.0,222.0 745.0,260.0 729.0,292.0 717.4,272.0 730.0,245.0" fill="#262628" />
<polygon points="643.0,184.6 681.0,188.0 727.0,206.5 737.0,215.0 730.0,245.0 717.4,272.0 700.0,279.6 668.7,267.4 649.0,262.5 632.0,218.7 634.6,196.8" fill="#38383a" />
<polygon points="643.0,184.6 681.0,188.0 727.0,206.5 737.0,215.0 712.0,217.0 676.0,211.0 650.0,206.0 634.6,196.8" fill="#464648" />
<polygon points="678.0,213.0 710.0,218.0 707.0,222.0 680.0,219.0" fill="#a2a2a5" />
<polygon points="676.0,222.0 712.0,224.0 717.4,272.0 700.0,279.6 668.7,267.4" fill="#303032" />
<ellipse cx="646" cy="246" rx="19" ry="20" fill="#151516"/>
<polygon points="624.0,238.0 629.0,228.0 650.0,229.5 657.0,240.0 655.0,258.0 640.0,264.0 630.0,258.0 626.0,248.0" fill="#2a2a2c" />
<polygon points="629.0,228.0 650.0,229.5 652.0,236.0 631.0,235.0" fill="#414143" />
<polygon points="633.0,238.0 650.0,239.0 650.0,252.0 640.0,258.0 634.0,250.0" fill="#1d1d1f" />
<circle cx="650" cy="298" r="11" fill="#131314"/>
<polygon points="657.0,318.0 666.0,313.5 668.0,317.0 659.5,322.0" fill="#5a5a5c" />
<polygon points="666.0,313.5 690.0,300.0 692.0,303.0 668.0,317.0" fill="#2f2f31" />
<polygon points="701.0,328.0 712.0,322.5 714.0,327.0 704.0,333.5" fill="#4a4a4c" />
<polygon points="740.0,207.0 751.0,204.0 753.0,212.0 743.0,216.0" fill="#3c3c3e" />
<circle cx="748" cy="209" r="2.2" fill="#151516"/>
<path d="M595.5,214 L590,262" stroke="#5e5e60" stroke-width="0.8" fill="none"/>
<path d="M602,224 L599,286" stroke="#3e3e40" stroke-width="1" fill="none"/>
<path d="M604,158 L615,148 L630,143.6 L647.5,142 L662.5,144.3 L685,151 L704,159.8 L728.5,169.5 L753,180.5" fill="none" stroke="#3c3c3f" stroke-width="1.3"/>
<path d="M764,184.5 L772,190 L775.5,196 L778.3,207 L777.8,224" fill="none" stroke="#4c4c4f" stroke-width="1.2"/>
<ellipse cx="658" cy="219.8" rx="8" ry="8.6" fill="#bf651a"/>
<ellipse cx="657" cy="217" rx="5" ry="4.4" fill="#db8a3c"/>
<rect x="666.3" y="224.8" width="14.5" height="14.6" rx="1.5" fill="#cfcab4"/>
<path d="M670,228 h8 v3 h-5 v3 h5 v2.4 h-8z" fill="#3a3a36"/>
<polygon points="597.5,243.0 600.0,238.5 611.0,238.0 613.0,241.0 622.0,244.0 624.5,250.0 623.0,257.0 613.0,258.0 610.0,255.0 600.0,252.5" fill="#d9d3bd" />
<polygon points="611.0,242.0 621.0,245.0 622.5,250.0 612.0,249.0" fill="#b7b199" />
<polygon points="599.0,246.0 609.0,246.5 609.0,250.0 600.0,249.5" fill="#c2bca6" />
<path d="M621,258 C613,263 610,270 611,278 C613,288 620,298 622,310 C622,322 614,330 607,337" fill="none" stroke="#e3c62c" stroke-width="1.7" stroke-linecap="round"/>
<path d="M625,259 C627,268 627,280 632,290 C636,304 648,312 655,314 C662,313 656,304 648,300 C642,297 638,294 636,290" fill="none" stroke="#8a5fb5" stroke-width="1.7" stroke-linecap="round"/>
<path d="M629,272 C626,284 616,292 612,304 C609,318 610,328 605,338" fill="none" stroke="#2f66b8" stroke-width="1.7" stroke-linecap="round"/>
<path d="M632,274 C629,286 620,296 616,308 C613,320 613,330 607,339" fill="none" stroke="#2f9a52" stroke-width="1.7" stroke-linecap="round"/>
<path d="M641,289 C638,280 630,277 622,280 C612,286 610,298 611,310 C612,324 608,332 603,338" fill="none" stroke="#e0762a" stroke-width="1.7" stroke-linecap="round"/>
<path d="M624,296 C620,310 616,326 606,340" fill="none" stroke="#5a4028" stroke-width="1.7" stroke-linecap="round"/>
<path d="M604.5,339.5 L585,365" stroke="#111" stroke-width="6" stroke-linecap="round" fill="none"/>
<path d="M602,339 L583,364" stroke="#333" stroke-width="0.9" fill="none"/>
<path d="M585,362.6 C579,368.6 574,371.6 566,374.16" fill="none" stroke="#2f66b8" stroke-width="1.5"/>
<path d="M585,364.1 C579,370.1 574,373.1 566,376.56" fill="none" stroke="#2f9a52" stroke-width="1.5"/>
<path d="M585,365.9 C579,371.9 574,374.9 566,379.44" fill="none" stroke="#e0762a" stroke-width="1.5"/>
<path d="M585,367.4 C579,373.4 574,376.4 566,381.84" fill="none" stroke="#e3c62c" stroke-width="1.5"/>
<polygon points="531.8,386.6 547.5,376.5 564.4,373.0 570.0,377.6 574.5,390.0 570.0,399.0 554.0,410.0 545.0,408.0 534.0,396.8" fill="#171717" stroke="#171717" stroke-width="1" stroke-linejoin="round"/>
<polygon points="547.0,379.0 564.0,375.0 568.0,385.0 551.0,391.0" fill="#2c2c2c" />
<polygon points="554.0,375.0 562.0,373.5 563.0,378.5 555.5,380.0" fill="#d12a26" />
<polygon points="534.0,388.0 546.0,381.0 551.0,392.0 540.0,399.0" fill="#262626" />
</g>
<ellipse cx="154.3" cy="150.25" rx="55.5" ry="26.25" fill="#fff" stroke="#0c0c0c" stroke-width="1.3"/>
<ellipse cx="353" cy="263" rx="65" ry="20" fill="#fff" stroke="#0c0c0c" stroke-width="1.3"/>
<ellipse cx="510.9" cy="250.9" rx="64.7" ry="19.8" fill="#fff" stroke="#0c0c0c" stroke-width="1.3"/>
<text x="122.5" y="140.4" font-family="Liberation Sans, sans-serif" font-weight="bold" font-size="12.9" textLength="59.0" lengthAdjust="spacingAndGlyphs" fill="#0a0a0a" stroke="#0a0a0a" stroke-width="0.8" >CONNECT TO JT</text>
<text x="122" y="155.5" font-family="Liberation Sans, sans-serif" font-weight="bold" font-size="12.9" textLength="59.5" lengthAdjust="spacingAndGlyphs" fill="#0a0a0a" stroke="#0a0a0a" stroke-width="0.8" >REVERSE LIGHT</text>
<text x="136.5" y="170.3" font-family="Liberation Sans, sans-serif" font-weight="bold" font-size="12.9" textLength="31.5" lengthAdjust="spacingAndGlyphs" fill="#0a0a0a" stroke="#0a0a0a" stroke-width="0.8" >MODULE</text>
<text x="309.9" y="263.0" font-family="Liberation Sans, sans-serif" font-weight="bold" font-size="12.9" textLength="85.0" lengthAdjust="spacingAndGlyphs" fill="#0a0a0a" stroke="#0a0a0a" stroke-width="0.8" >CONNECT TO FACTORY</text>
<text x="334.9" y="277.6" font-family="Liberation Sans, sans-serif" font-weight="bold" font-size="12.9" textLength="36.2" lengthAdjust="spacingAndGlyphs" fill="#0a0a0a" stroke="#0a0a0a" stroke-width="0.8" >HARNESS</text>
<text x="468.8" y="249.0" font-family="Liberation Sans, sans-serif" font-weight="bold" font-size="12.9" textLength="84.6" lengthAdjust="spacingAndGlyphs" fill="#0a0a0a" stroke="#0a0a0a" stroke-width="0.8" >CONNECT TO FACTORY</text>
<text x="479.2" y="263.4" font-family="Liberation Sans, sans-serif" font-weight="bold" font-size="12.9" textLength="63.9" lengthAdjust="spacingAndGlyphs" fill="#0a0a0a" stroke="#0a0a0a" stroke-width="0.8" >TAIL LIGHT PLUG</text>
<text x="429.6" y="94.1" font-family="Liberation Sans, sans-serif" font-weight="bold" font-size="15.3" textLength="103.8" lengthAdjust="spacingAndGlyphs" fill="#0a0a0a" stroke="#0a0a0a" stroke-width="0.8" >PLUG&amp;PLAY HARNESS</text>
<rect x="429.6" y="96.1" width="103.79999999999995" height="1.5" fill="#0a0a0a"/>
<text x="642.8" y="380.1" font-family="Liberation Sans, sans-serif" font-weight="bold" font-size="15.3" textLength="97.2" lengthAdjust="spacingAndGlyphs" fill="#0a0a0a" stroke="#0a0a0a" stroke-width="0.8" >FACTORY TAIL LIGHT</text>
<rect x="642.8" y="381.8" width="97.20000000000005" height="1.5" fill="#0a0a0a"/>
<text x="27.5" y="452.4" font-family="Liberation Sans, sans-serif" font-weight="bold" font-size="15.4" textLength="130.5" lengthAdjust="spacingAndGlyphs" fill="#0a0a0a" stroke="#0a0a0a" stroke-width="0.8" >JT REVERSE LIGHT MODULE</text>
<rect x="27.5" y="454.1" width="130.5" height="1.5" fill="#0a0a0a"/>
<text x="289.8" y="463.5" font-family="Liberation Sans, sans-serif" font-weight="bold" font-size="15.4" textLength="91.4" lengthAdjust="spacingAndGlyphs" fill="#0a0a0a" stroke="#0a0a0a" stroke-width="0.8" >FACTORY HARNESS</text>
<rect x="289.8" y="465.1" width="91.39999999999998" height="1.5" fill="#0a0a0a"/>
<text x="300.6" y="478.7" font-family="Liberation Sans, sans-serif" font-weight="bold" font-size="15.4" textLength="70.6" lengthAdjust="spacingAndGlyphs" fill="#0a0a0a" stroke="#0a0a0a" stroke-width="0.8" >FROM VEHICLE</text>
<rect x="300.6" y="480.1" width="70.59999999999997" height="1.5" fill="#0a0a0a"/>
<text y="63.0" font-family="Liberation Sans, sans-serif" font-weight="bold" font-style="italic" font-size="22.8" fill="#0a0a0a" stroke="#0a0a0a" stroke-width="0.9" lengthAdjust="spacingAndGlyphs"><tspan x="591.9" textLength="69.4">PART#</tspan><tspan> </tspan><tspan x="670.2" textLength="106.2">5880-504</tspan></text>
<text x="626.9" y="83.3" textLength="115.1" font-family="Liberation Sans, sans-serif" font-weight="bold" font-style="italic" font-size="22.8" fill="#0a0a0a" stroke="#0a0a0a" stroke-width="0.9" lengthAdjust="spacingAndGlyphs">DIAGRAM</text>
</svg>
</body></html>
